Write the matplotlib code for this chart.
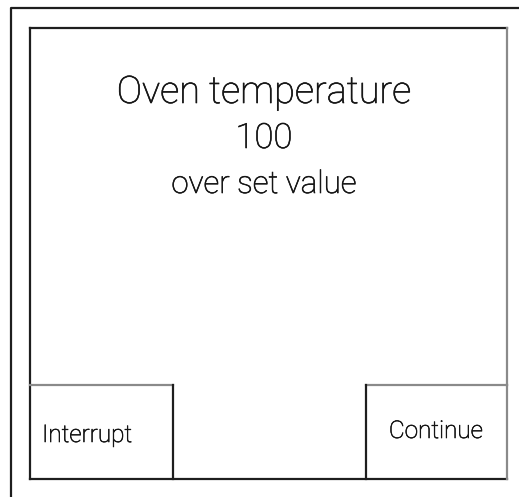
import matplotlib
matplotlib.use("Agg")
import matplotlib.pyplot as plt
import matplotlib.patheffects as pe

# Content
message_lines = ["Oven temperature", "100", "over set value"]
button_labels = ["Interrupt", "Continue"]

W, H = 519, 497
fig = plt.figure(figsize=(W / 100, H / 100), dpi=100)
ax = fig.add_axes([0, 0, 1, 1])
ax.set_xlim(0, W)
ax.set_ylim(H, 0)
ax.axis("off")

dark = "#1e1e1e"
grey = "#8a8a8a"
lw = 1.6

# outer frame
ax.plot([11, 11, W], [H, 8, 8], color=dark, lw=lw, solid_capstyle="butt")
# inner screen box
ax.plot([30, 30], [479, 28], color=dark, lw=lw)
ax.plot([30, 507], [28, 28], color=dark, lw=lw)
ax.plot([507, 507], [28, 385], color=grey, lw=lw)
ax.plot([30, 507], [479, 479], color=dark, lw=lw)

# buttons
ax.plot([30, 173], [385, 385], color=grey, lw=lw)
ax.plot([173, 173], [385, 479], color=dark, lw=lw)
ax.plot([366, 507], [385, 385], color=grey, lw=lw)
ax.plot([366, 366], [385, 479], color=dark, lw=lw)
ax.plot([507, 507], [385, 479], color=grey, lw=lw)

fam = ["Roboto", "DejaVu Sans"]
txt = "#151515"
thick = [pe.withStroke(linewidth=0.45, foreground=txt)]
baselines = [103, 148, 193]
sizes = [27.3, 25, 22.5]
for line, yb, fs in zip(message_lines, baselines, sizes):
    ax.text(264, yb, line, ha="center", va="baseline", fontsize=fs,
            family=fam, weight="light", color=txt, path_effects=thick)

ax.text(42, 442, button_labels[0], ha="left", va="baseline", fontsize=17.5,
        family=fam, weight="light", color=txt, path_effects=thick)
ax.text(436, 438, button_labels[1], ha="center", va="baseline", fontsize=17.5,
        family=fam, weight="light", color=txt, path_effects=thick)

fig.savefig("out.png", dpi=100)
